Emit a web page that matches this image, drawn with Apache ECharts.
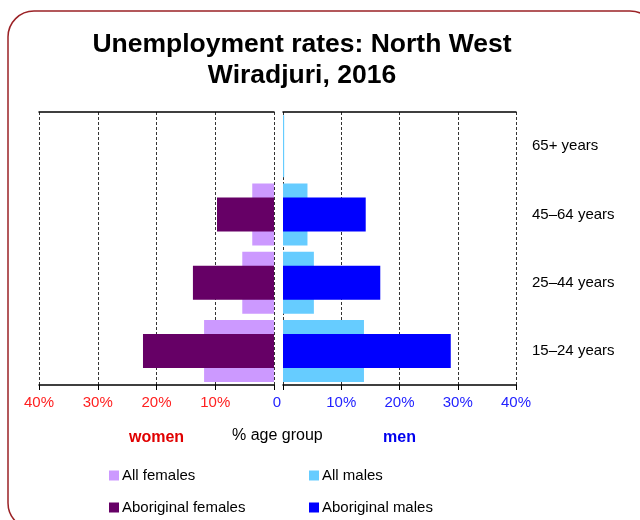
<!DOCTYPE html>
<html>
<head>
<meta charset="utf-8">
<script src="https://cdn.jsdelivr.net/npm/echarts@6/dist/echarts.min.js"></script>
<style>
  html, body { margin: 0; padding: 0; background: #fff; }
  #chart { width: 640px; height: 520px; }
</style>
</head>
<body>
<div id="chart"></div>
<script>
  // age groups, bottom to top
  const ageGroups = ['15\u201324 years', '25\u201344 years', '45\u201364 years', '65+ years']
  const allFemales = [11.9, 5.4, 3.7, 0]
  const aboriginalFemales = [22.3, 13.8, 9.7, 0]
  const allMales = [13.9, 5.3, 4.2, 0.2]
  const aboriginalMales = [28.8, 16.7, 14.2, 0]
  const tickValues = [0, 10, 20, 30, 40]

  const font = 'Liberation Sans, Arial, sans-serif'
  const chart = echarts.init(document.getElementById('chart'))

  function valueAxis (grid, inverse, color, showZero) {
    return {
      type: 'value',
      gridIndex: grid,
      min: tickValues[0],
      max: tickValues[tickValues.length - 1],
      interval: 10,
      inverse: inverse,
      position: 'bottom',
      axisLine: { show: true, lineStyle: { color: '#000', width: 1.5 } },
      axisTick: { show: true, length: 5, lineStyle: { color: '#000' } },
      axisLabel: {
        color: color,
        fontFamily: font,
        fontSize: 15,
        margin: 10,
        formatter: function (v) {
          if (v === 0) return showZero ? '{z|0}' : ''
          return v + '%'
        },
        rich: { z: { color: '#2222ff', fontSize: 15, fontFamily: font, padding: [0, 12, 0, 0] } }
      },
      splitLine: { show: true, lineStyle: { color: '#333', type: [3, 2], width: 1 } }
    }
  }

  function topAxis (grid, inverse) {
    return {
      type: 'value',
      gridIndex: grid,
      min: 0,
      max: 40,
      interval: 10,
      inverse: inverse,
      position: 'top',
      axisLine: { show: true, lineStyle: { color: '#000', width: 1.5 } },
      axisTick: { show: false },
      axisLabel: { show: false },
      splitLine: { show: false }
    }
  }

  function categoryAxis (grid, showLabels) {
    return {
      type: 'category',
      gridIndex: grid,
      data: ageGroups,
      position: 'right',
      axisLine: { show: false },
      axisTick: { show: false },
      axisLabel: { show: showLabels, color: '#000', fontFamily: font, fontSize: 15, margin: 16 }
    }
  }

  function legendBlock (left, names) {
    return {
      orient: 'vertical',
      left: left,
      top: 468,
      padding: 0,
      itemWidth: 10,
      itemHeight: 10,
      itemGap: 17,
      icon: 'rect',
      itemStyle: { borderWidth: 0 },
      data: names,
      textStyle: { color: '#000', fontSize: 15, fontFamily: font, padding: [0, 0, 0, -2] }
    }
  }

  function barSeries (name, grid, yIndex, data, width, color, z) {
    return {
      name: name,
      type: 'bar',
      xAxisIndex: grid,
      yAxisIndex: yIndex,
      data: data,
      barWidth: width,
      z: z,
      itemStyle: { color: color, borderWidth: 0 }
    }
  }

  const option = {
    backgroundColor: '#fff',
    animation: false,
    title: {
      text: 'Unemployment rates: North West\nWiradjuri, 2016',
      left: 297,
      textAlign: 'center',
      top: 24,
      textStyle: {
        fontFamily: font,
        fontWeight: 'bold',
        fontSize: 26.5,
        lineHeight: 31,
        color: '#000'
      }
    },
    grid: [
      { left: 39, right: 366, top: 112, height: 273 },
      { left: 283, right: 124, top: 112, height: 273 }
    ],
    xAxis: [
      Object.assign(valueAxis(0, true, '#ff2020', false), {
        name: 'women',
        nameLocation: 'middle',
        nameGap: 45,
        nameTextStyle: { color: '#e00000', fontWeight: 'bold', fontSize: 16, fontFamily: font }
      }),
      Object.assign(valueAxis(1, false, '#2222ff', true), {
        name: 'men',
        nameLocation: 'middle',
        nameGap: 45,
        nameTextStyle: { color: '#0000ee', fontWeight: 'bold', fontSize: 16, fontFamily: font }
      }),
      topAxis(0, true),
      topAxis(1, false)
    ],
    // one category axis per bar layer so the narrow bars sit centred on the wide ones
    yAxis: [
      categoryAxis(0, false),
      categoryAxis(0, false),
      categoryAxis(1, true),
      categoryAxis(1, false)
    ],
    legend: [
      legendBlock(109, ['All females', 'Aboriginal females']),
      legendBlock(309, ['All males', 'Aboriginal males'])
    ],
    series: [
      barSeries('All females', 0, 0, allFemales, 62, '#cc99ff', 2),
      barSeries('Aboriginal females', 0, 1, aboriginalFemales, 34, '#660066', 3),
      barSeries('All males', 1, 2, allMales, 62, '#66ccff', 2),
      barSeries('Aboriginal males', 1, 3, aboriginalMales, 34, '#0000ff', 3)
    ],
    graphic: [
      {
        type: 'rect',
        shape: { x: 8, y: 11, width: 648, height: 518, r: 26 },
        style: { fill: 'none', stroke: '#9b2226', lineWidth: 1.5 },
        silent: true,
        z: 0
      },
      {
        type: 'text',
        left: 232,
        top: 428,
        style: { text: '% age group', fill: '#000', font: '16px ' + font }
      }
    ]
  }

  chart.setOption(option)
</script>
</body>
</html>
